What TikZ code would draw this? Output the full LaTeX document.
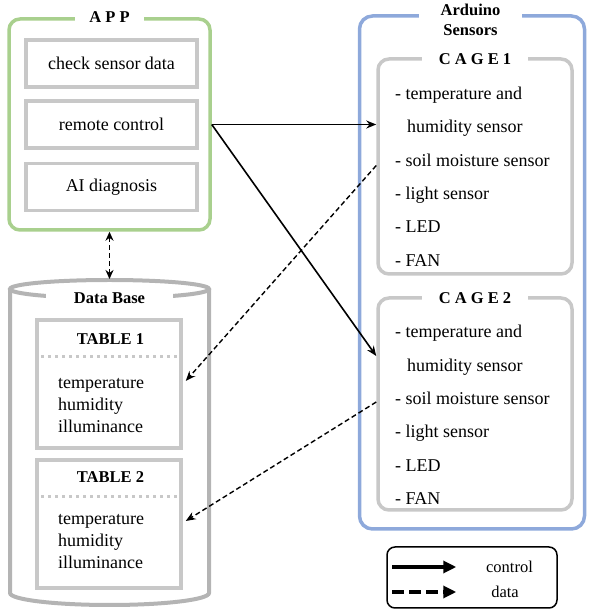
\documentclass[tikz,border=0pt]{standalone}
\usepackage{fontspec}
\setmainfont{Liberation Serif}
\usetikzlibrary{arrows.meta, calc, positioning}
\definecolor{appgreen}{RGB}{169,208,142}
\definecolor{ardblue}{RGB}{142,169,219}
\definecolor{boxgray}{RGB}{200,200,200}
\definecolor{dbgray}{RGB}{180,180,180}

\begin{document}
\begin{tikzpicture}[x=1pt, y=1pt,
  txt/.style={font=\fontsize{18}{22}\selectfont, inner sep=0pt},
  listtxt/.style={font=\fontsize{18}{33.4}\selectfont, inner sep=0pt, anchor=west, align=left},
  boxtitle/.style={font=\fontsize{16.5}{20}\selectfont\bfseries, fill=white, inner ysep=1pt},
  groupbox/.style={draw, line width=3.5pt, rounded corners=11pt},
  appitem/.style={txt, draw=boxgray, line width=3.5pt, minimum width=171, minimum height=47},
  tablebox/.style={draw=boxgray, line width=3.5pt, minimum width=144, minimum height=128},
  sepline/.style={boxgray, line width=3pt, dash pattern=on 3pt off 4pt},
  ctrl/.style={line width=1.6pt, -{Stealth[length=10pt, width=8pt]}},
  dataline/.style={line width=1.4pt, dash pattern=on 5pt off 3pt, -{Stealth[length=10pt, width=8pt]}},
  legarrow/.style={line width=3.2pt, -{Triangle[length=13pt, width=12pt]}}
]
  \useasboundingbox (0,0) rectangle (590,610);

  % app
  \node[groupbox, draw=appgreen, minimum width=201, minimum height=211] (app) at (109.5,485.5) {};
  \node[boxtitle, inner xsep=14pt] (apptitle) at (app.north) {A P P};
  \node[appitem] (check) at (111.5,546.5) {check sensor data};
  \node[appitem] (remote) at (111.5,485.5) {remote control};
  \node[appitem] (diag) at (111.5,423) {AI diagnosis};

  % data base
  \draw[dbgray, line width=4pt, fill=white] (10,321) -- (10,17)
    arc[start angle=180, end angle=360, x radius=99.5, y radius=12] -- (209,321);
  \draw[dbgray, line width=4pt] (109.5,321) ellipse[x radius=99.5, y radius=9];
  \node[boxtitle, inner xsep=28pt, inner ysep=0pt] (dbtitle) at (109.5,312) {Data Base};
  \coordinate (dbtop) at (109.5,331);

  \node[tablebox] (table1) at (109,226) {};
  \node[boxtitle, inner sep=0pt] (t1title) at (110.5,271) {TABLE 1};
  \draw[sepline] ($(table1.west)+(6,27)$) -- ($(table1.east)+(-2,27)$);
  \node[txt, anchor=west, align=left] (t1data) at (58,204) {temperature\\humidity\\illuminance};

  \node[tablebox] (table2) at (109,86) {};
  \node[boxtitle, inner sep=0pt] (t2title) at (110.5,133) {TABLE 2};
  \draw[sepline] ($(table2.west)+(6,27)$) -- ($(table2.east)+(-2,27)$);
  \node[txt, anchor=west, align=left] (t2data) at (58,68) {temperature\\humidity\\illuminance};

  % arduino
  \node[groupbox, draw=ardblue, minimum width=225, minimum height=513, rounded corners=13pt] (ard) at (472,337.5) {};
  \node[boxtitle, align=center, inner xsep=22pt] (ardtitle) at (470.5,590) {Arduino\\Sensors};

  \node[groupbox, draw=boxgray, minimum width=194, minimum height=215] (cage1) at (475,443.5) {};
  \node[boxtitle, inner xsep=17pt] (cage1title) at ([yshift=-2]cage1.north) {C A G E 1};
  \node[listtxt] (list1) at (395,433.5) {- temperature and\\\hspace*{12pt}humidity sensor\\- soil moisture sensor\\- light sensor\\- LED\\- FAN};

  \node[groupbox, draw=boxgray, minimum width=194, minimum height=212] (cage2) at (475,206) {};
  \node[boxtitle, inner xsep=17pt] (cage2title) at ([yshift=-2]cage2.north) {C A G E 2};
  \node[listtxt] (list2) at (395,195) {- temperature and\\\hspace*{12pt}humidity sensor\\- soil moisture sensor\\- light sensor\\- LED\\- FAN};

  % connectors
  \coordinate (rc) at (app.east |- remote.east);
  \draw[ctrl] (rc) -- (cage1.west |- rc);
  \draw[ctrl] (rc) -- ([yshift=48]cage2.west);
  \draw[dataline] ([yshift=1]cage1.west) -- ([xshift=3,yshift=3]table1.east);
  \draw[dataline] ([yshift=2]cage2.west) -- ([xshift=3,yshift=3]table2.east);
  \draw[dataline, {Stealth[length=9pt, width=8pt]}-{Stealth[length=9pt, width=8pt]}] (app.south) -- (dbtop);

  % legend
  \node[draw, line width=1.5pt, rounded corners=8pt, minimum width=170, minimum height=61] (legend) at (472,32.5) {};
  \node[font=\fontsize{16.5}{19}\selectfont, inner sep=0pt] (ctrllabel) at (509.5,43) {control};
  \node[font=\fontsize{16.5}{19}\selectfont, inner sep=0pt] (datalabel) at (505,18) {data};
  \draw[legarrow] ([xshift=6]legend.west |- ctrllabel.center) -- ++(64,0);
  \draw[legarrow, dash pattern=on 12pt off 5pt] ([xshift=6]legend.west |- datalabel.center) -- ++(64,0);
\end{tikzpicture}
\end{document}
